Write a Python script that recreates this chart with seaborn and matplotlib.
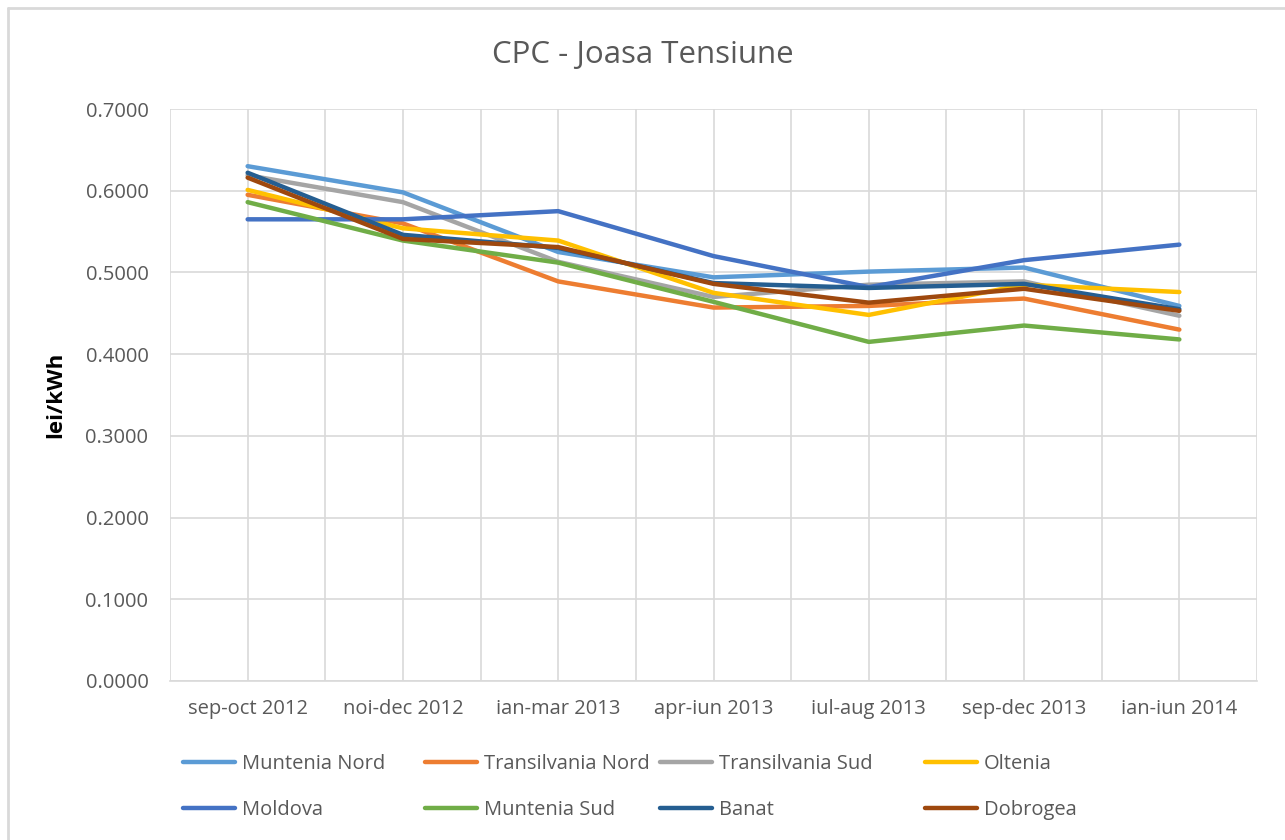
import matplotlib
matplotlib.use("Agg")
import matplotlib.pyplot as plt
from matplotlib.lines import Line2D
from matplotlib.ticker import FormatStrFormatter
import seaborn as sns
import pandas as pd

categories = ["sep-oct 2012", "noi-dec 2012", "ian-mar 2013", "apr-iun 2013",
              "iul-aug 2013", "sep-dec 2013", "ian-iun 2014"]

muntenia_nord = [0.630, 0.598, 0.525, 0.494, 0.501, 0.506, 0.459]
transilvania_nord = [0.595, 0.560, 0.489, 0.457, 0.459, 0.468, 0.430]
transilvania_sud = [0.619, 0.586, 0.513, 0.470, 0.485, 0.489, 0.447]
oltenia = [0.601, 0.554, 0.539, 0.475, 0.448, 0.485, 0.476]
moldova = [0.565, 0.565, 0.575, 0.520, 0.482, 0.515, 0.534]
muntenia_sud = [0.586, 0.539, 0.512, 0.464, 0.415, 0.435, 0.418]
banat = [0.622, 0.546, 0.530, 0.487, 0.481, 0.486, 0.455]
dobrogea = [0.616, 0.541, 0.531, 0.486, 0.463, 0.480, 0.453]

series_names = ["Muntenia Nord", "Transilvania Nord", "Transilvania Sud", "Oltenia",
                "Moldova", "Muntenia Sud", "Banat", "Dobrogea"]
series_values = [muntenia_nord, transilvania_nord, transilvania_sud, oltenia,
                 moldova, muntenia_sud, banat, dobrogea]
colors = ["#5B9BD5", "#ED7D31", "#A5A5A5", "#FFC000",
          "#4472C4", "#70AD47", "#255E91", "#9E480E"]

y_ticks = [0.0, 0.1, 0.2, 0.3, 0.4, 0.5, 0.6, 0.7]

rows = []
for name, vals in zip(series_names, series_values):
    for c, v in zip(categories, vals):
        rows.append({"perioada": c, "valoare": v, "zona": name})
df = pd.DataFrame(rows)

sns.set_theme(style="white")
plt.rcParams['font.family'] = ['Open Sans', 'DejaVu Sans']

txt = "#595959"
grid = "#D9D9D9"

fig = plt.figure(figsize=(12.85, 8.4), dpi=100)
ax = fig.add_axes([170/1285, 1-681/840, 1087/1285, 572/840])

sns.lineplot(data=df, x="perioada", y="valoare", hue="zona",
             hue_order=series_names, palette=colors, sort=False,
             linewidth=3.2, legend=False, ax=ax, zorder=3)
for ln in ax.get_lines():
    ln.set_solid_capstyle("round")
    ln.set_solid_joinstyle("round")

ax.set_xlim(-0.5, 6.5)
ax.set_ylim(0, 0.7)
ax.set_xticks(range(len(categories)))
ax.set_xticklabels(categories)
ax.set_xticks([i - 0.5 for i in range(len(categories) + 1)], minor=True)
ax.set_yticks(y_ticks)
ax.yaxis.set_major_formatter(FormatStrFormatter("%.4f"))

ax.grid(True, which="both", axis="x", color=grid, linewidth=1.2, zorder=0)
ax.grid(True, which="major", axis="y", color=grid, linewidth=1.2, zorder=0)
ax.set_axisbelow(True)

ax.tick_params(axis="x", which="both", length=0, pad=13, labelsize=14.5, labelcolor=txt)
ax.tick_params(axis="y", length=0, pad=15.5, labelsize=14.5, labelcolor=txt)

for side in ["top", "right", "left"]:
    ax.spines[side].set_visible(False)
ax.spines["bottom"].set_color(grid)
ax.spines["bottom"].set_linewidth(1.2)

ax.set_xlabel("")
ax.set_ylabel("lei/kWh", fontsize=16, fontweight="bold", color="black")
ax.yaxis.set_label_coords((66-170)/1087, 0.5)

fig.text(0.5, 1-55/840, "CPC - Joasa Tensiune", ha="center", va="center",
         fontsize=22.5, color=txt)

# legend entries (Excel-like layout, two rows of four)
col_x = [183, 425, 660, 925]
row_y = [764, 810]
for i, (name, col) in enumerate(zip(series_names, colors)):
    r, c = divmod(i, 4)
    h = Line2D([], [], color=col, linewidth=3.2, solid_capstyle="round")
    leg = fig.legend([h], [name], loc="center left",
                     bbox_to_anchor=(col_x[c]/1285, 1-row_y[r]/840),
                     frameon=False, borderpad=0, borderaxespad=0,
                     handlelength=2.6, handletextpad=0.34, fontsize=14.5)
    for t in leg.get_texts():
        t.set_color(txt)

# outer chart border (top and left visible)
fig.add_artist(Line2D([8/1285, 1.0], [1-8/840, 1-8/840], transform=fig.transFigure,
                      color=grid, linewidth=2))
fig.add_artist(Line2D([8/1285, 8/1285], [0.0, 1-8/840], transform=fig.transFigure,
                      color=grid, linewidth=2))

fig.savefig("out.png", dpi=100, facecolor="white")
